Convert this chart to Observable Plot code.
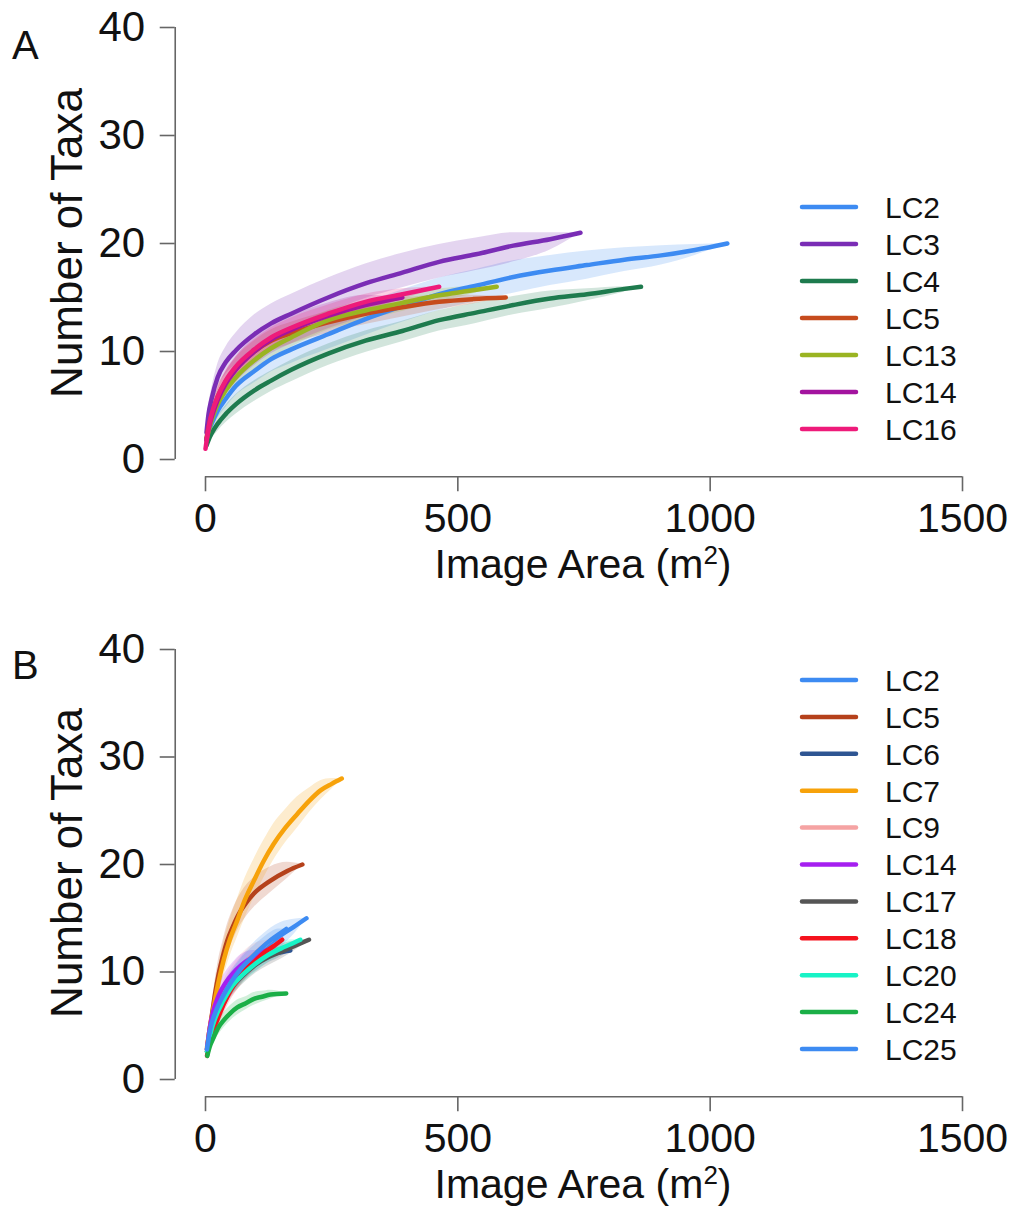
<!DOCTYPE html>
<html><head><meta charset="utf-8">
<script src="https://cdn.jsdelivr.net/npm/d3@7"></script>
<script src="https://cdn.jsdelivr.net/npm/@observablehq/plot@0.6"></script>
<style>
body{margin:0;background:#fff;font-family:"Liberation Sans",Arial,sans-serif;}
#wrap{position:relative;width:1016px;height:1207px;overflow:hidden;}
#wrap>div.panel{position:absolute;left:0;}
#overlay{position:absolute;left:0;top:0;pointer-events:none;}
</style></head><body><div id="wrap"></div>
<script>
// ---- axis ticks ----
const xTicks = [0, 500, 1000, 1500];
const yTicks = [0, 10, 20, 30, 40];

// ---- Panel A ----
const seriesA = ["LC2", "LC3", "LC4", "LC5", "LC13", "LC14", "LC16"];
const colorsA = ["#3D8BF2", "#7A2DB5", "#1E7B4E", "#C64B1D", "#9AB422", "#A3149F", "#EE1B7A"];
// [image area, taxa, lower, upper]
const A_LC2 = [[2,1.8,1.5,2.1],[6,2.6,2.2,3.0],[12,3.3,2.8,3.8],[24,4.5,3.8,5.2],[40,5.6,4.8,6.4],[60,6.8,5.9,7.7],[97,8.2,7.1,9.3],[130,9.3,8.1,10.5],[170,10.2,8.9,11.5],[243,11.6,10.2,13.0],[317,13.0,11.5,14.5],[390,14.2,12.7,15.7],[463,15.3,13.8,16.8],[536,16.1,14.6,17.6],[610,16.9,15.4,18.4],[683,17.5,16.1,18.9],[756,18.0,16.7,19.3],[830,18.5,17.4,19.6],[903,18.9,18.0,19.8],[970,19.4,18.9,19.9],[1034,20,20,20]];
const A_LC3 = [[2,2.5,2.0,3.0],[6,4.2,3.5,4.9],[12,5.6,4.7,6.5],[24,7.6,6.6,8.8],[40,9.0,7.9,10.4],[60,10.1,8.8,11.7],[97,11.6,10.2,13.4],[130,12.6,11.2,14.4],[170,13.5,12.1,15.3],[243,15.0,13.6,16.8],[317,16.3,14.9,18.1],[390,17.3,15.9,19.1],[463,18.3,16.8,19.9],[536,19.0,17.5,20.5],[610,19.8,18.3,21.0],[683,20.4,19.4,21.0],[743,21,21,21]];
const A_LC4 = [[2,1.3,1.0,1.6],[6,1.8,1.4,2.2],[12,2.4,1.9,2.9],[24,3.3,2.6,4.0],[40,4.2,3.4,5.0],[60,5.1,4.2,6.0],[97,6.4,5.4,7.3],[130,7.3,6.3,8.2],[170,8.3,7.2,9.2],[243,9.8,8.7,10.7],[317,11.0,9.9,11.9],[390,11.9,10.9,12.8],[463,12.9,11.9,13.8],[536,13.6,12.6,14.5],[610,14.3,13.4,15.1],[683,14.9,14.0,15.6],[756,15.3,14.7,15.8],[830,15.8,15.5,16.0],[863,16,16,16]];
const A_LC5 = [[2,2.0,1.6,2.4],[6,3.0,2.5,3.5],[12,4.1,3.4,4.8],[24,5.8,5.0,6.7],[40,7.2,6.3,8.1],[60,8.4,7.4,9.4],[97,10.0,9.0,11.0],[130,11.0,10.0,12.0],[170,11.7,10.7,12.7],[243,12.7,11.7,13.7],[317,13.5,12.5,14.4],[390,14.1,13.2,14.9],[463,14.6,13.9,15.2],[530,14.85,14.4,15.2],[595,15,15,15]];
const A_LC13 = [[2,1.8,1.5,2.1],[6,2.6,2.2,3.0],[12,3.6,3.0,4.2],[24,5.1,4.3,5.9],[40,6.4,5.6,7.2],[60,7.6,6.7,8.5],[97,9.2,8.3,10.1],[130,10.3,9.4,11.2],[170,11.3,10.4,12.2],[243,12.9,12.0,13.8],[317,13.8,12.9,14.7],[390,14.5,13.7,15.3],[463,15.2,14.6,15.8],[520,15.6,15.2,16.0],[577,16,16,16]];
const A_LC14 = [[2,1.8,1.4,2.2],[6,2.8,2.3,3.3],[12,3.9,3.2,4.6],[24,5.5,4.5,6.5],[40,7.0,5.9,8.1],[60,8.3,7.1,9.5],[97,10.0,8.7,11.3],[130,11.1,9.8,12.4],[170,12.0,10.7,13.3],[243,13.3,12.1,14.5],[317,14.3,13.3,15.2],[390,15,15,15]];
const A_LC16 = [[0,1.0,1.0,1.0],[3,2.0,1.7,2.3],[8,3.4,2.9,3.9],[16,4.8,4.1,5.5],[24,5.8,5.0,6.6],[40,7.3,6.4,8.2],[60,8.6,7.7,9.5],[97,10.2,9.3,11.1],[130,11.3,10.4,12.2],[170,12.2,11.3,13.1],[243,13.5,12.7,14.3],[317,14.6,13.9,15.3],[390,15.3,14.8,15.8],[463,16,16,16]];
const curvesA = [A_LC2, A_LC3, A_LC4, A_LC5, A_LC13, A_LC14, A_LC16];

// ---- Panel B ----
const seriesB = ["LC2", "LC5", "LC6", "LC7", "LC9", "LC14", "LC17", "LC18", "LC20", "LC24", "LC25"];
const colorsB = ["#3D8BF2", "#B5411B", "#2E5592", "#F7A20A", "#F5A3A3", "#A51FF0", "#555555", "#F5121E", "#17F3C6", "#1BAF47", "#3D8BF2"];
const B_LC2 = [[3,2.8,2.4,3.2],[8,4.2,3.6,4.8],[15,5.5,4.7,6.3],[30,7.3,6.3,8.3],[48,8.8,7.7,9.9],[69,10.1,9.0,11.3],[109,12.0,10.8,13.3],[149,13.4,12.3,14.6],[175,14.2,13.5,14.9],[200,15,15,15]];
const B_LC5 = [[3,2.8,2.3,3.3],[7,4.3,3.6,5.0],[13,6.1,5.2,7.2],[19,8.0,6.9,9.2],[26,9.8,8.6,11.2],[34,11.4,10.1,12.8],[43,12.9,11.6,14.4],[54,14.2,12.9,15.8],[66,15.4,14.1,17.0],[80,16.4,15.1,18.0],[96,17.3,16.0,18.8],[129,18.5,17.4,19.8],[162,19.4,18.7,20.2],[192,20,20,20]];
const B_LC6 = [[3,2.6,2.2,3.0],[8,3.9,3.3,4.5],[20,5.8,5.0,6.6],[35,7.4,6.5,8.3],[50,8.6,7.7,9.5],[66,9.6,8.7,10.5],[83,10.4,9.5,11.3],[100,10.9,10.1,11.7],[122,11.5,10.8,12.2],[145,11.8,11.3,12.3],[168,12,12,12]];
const B_LC7 = [[3,3.0,2.5,3.5],[8,4.6,3.9,5.4],[16,6.7,5.6,7.9],[25,8.9,7.6,10.3],[36,11.1,9.6,12.8],[48,13.0,11.4,14.8],[63,14.8,13.2,16.8],[78,16.7,15.0,18.7],[96,18.5,16.9,20.5],[115,20.3,18.7,22.2],[135,21.9,20.4,23.8],[158,23.4,22.0,25.1],[182,24.7,23.4,26.3],[205,25.9,24.8,27.1],[228,26.9,26.0,27.8],[250,27.5,27.0,28.0],[270,28,28,28]];
const B_LC9 = [[3,2.8,2.4,3.2],[9,4.6,3.9,5.3],[20,6.5,5.6,7.5],[35,8.0,7.0,9.1],[50,9.2,8.1,10.4],[65,10.1,9.0,11.3],[80,10.9,9.8,12.1],[105,12.0,11.2,12.8],[130,13,13,13]];
const B_LC14 = [[3,2.8,2.4,3.2],[8,4.6,3.9,5.3],[15,6.3,5.5,7.2],[26,7.8,6.9,8.8],[40,9.0,8.0,10.0],[55,9.9,8.9,10.9],[70,10.6,9.6,11.6],[95,11.4,10.8,12.0],[120,12,12,12]];
const B_LC17 = [[3,2.6,2.2,3.0],[9,4.0,3.4,4.6],[20,5.6,4.9,6.3],[35,7.2,6.4,8.0],[50,8.4,7.6,9.2],[75,9.7,8.9,10.5],[100,10.7,9.9,11.5],[125,11.4,10.6,12.2],[150,11.9,11.2,12.6],[180,12.5,12.1,12.9],[205,13,13,13]];
const B_LC18 = [[3,2.2,1.8,2.6],[10,3.8,3.2,4.4],[23,5.5,4.7,6.3],[36,7.0,6.1,7.9],[50,8.3,7.4,9.2],[66,9.4,8.5,10.3],[83,10.4,9.5,11.3],[100,11.1,10.3,11.9],[116,11.8,11.1,12.5],[135,12.4,11.9,12.9],[152,13,13,13]];
const B_LC20 = [[3,2.6,2.2,3.0],[9,4.1,3.5,4.7],[20,5.8,5.1,6.5],[35,7.3,6.5,8.1],[50,8.5,7.7,9.3],[75,9.8,9.0,10.6],[100,10.8,10.0,11.6],[125,11.6,10.9,12.3],[150,12.2,11.6,12.8],[170,12.6,12.2,13.0],[188,13,13,13]];
const B_LC24 = [[3.5,2.2,1.8,2.6],[8,3.0,2.5,3.5],[16,3.9,3.3,4.5],[25,4.8,4.1,5.5],[36,5.5,4.8,6.2],[50,6.2,5.5,6.9],[63,6.7,6.0,7.4],[80,7.1,6.5,7.7],[96,7.5,6.9,8.1],[112,7.7,7.2,8.2],[129,7.9,7.5,8.3],[160,8,8,8]];
const B_LC25 = [[3,2.8,2.4,3.2],[9,4.6,3.9,5.3],[20,6.3,5.5,7.1],[35,7.8,6.9,8.7],[50,9.0,8.1,9.9],[70,10.3,9.4,11.2],[90,11.3,10.4,12.2],[110,12.2,11.4,13.0],[130,13.0,12.3,13.7],[145,13.5,13.0,14.0],[160,14,14,14]];
const curvesB = [B_LC2, B_LC5, B_LC6, B_LC7, B_LC9, B_LC14, B_LC17, B_LC18, B_LC20, B_LC24, B_LC25];

const xLabel = "Image Area (m";
const yLabel = "Number of Taxa";
const FONT = "Liberation Sans, Arial, Helvetica, sans-serif";
const AXIS_COLOR = "#666";

function panel(curves, colors, o) {
  const rows = curves.map(c => c.map(([x, y, lo, hi]) => ({x, y, lo, hi})));
  const yMin = -0.04 * yTicks[yTicks.length - 1];
  const yMax = yTicks[yTicks.length - 1] * 1.04;
  const xSpan = xTicks[xTicks.length - 1] - xTicks[0];
  return Plot.plot({
    width: 1016, height: o.height,
    marginLeft: 174.72, marginRight: 23.72, marginTop: o.mt, marginBottom: o.mb,
    x: {domain: [xTicks[0] - 0.04 * xSpan, xTicks[xTicks.length - 1] + 0.04 * xSpan], label: null},
    y: {domain: [yMin, yMax], label: null},
    style: {fontFamily: FONT, background: "transparent", color: "#111", overflow: "visible"},
    marks: [
      ...rows.map((r, i) => Plot.areaY(r, {x: "x", y1: "lo", y2: "hi", fill: colors[i], fillOpacity: 0.2, curve: "monotone-x"})),
      ...rows.map((r, i) => Plot.line(r, {x: "x", y: "y", stroke: colors[i], strokeWidth: 4.5, strokeLinecap: "round", strokeLinejoin: "round", curve: "monotone-x"})),
      Plot.axisX({ticks: xTicks, tickSize: 15, tickPadding: 11, fontSize: 41, tickFormat: d3.format("d"), stroke: AXIS_COLOR, strokeWidth: 1.6, fill: "#111", label: null}),
      Plot.axisY({ticks: yTicks, tickSize: 15, tickPadding: 15, fontSize: 42, tickFormat: d3.format("d"), stroke: AXIS_COLOR, strokeWidth: 1.6, fill: "#111", label: null}),
      Plot.ruleY([{y: yMin, x1: xTicks[0], x2: xTicks[xTicks.length - 1]}], {y: "y", x1: "x1", x2: "x2", stroke: AXIS_COLOR, strokeWidth: 1.6}),
      Plot.ruleX([{x: xTicks[0] - 0.04 * xSpan, y1: yTicks[0], y2: yTicks[yTicks.length - 1]}], {x: "x", y1: "y1", y2: "y2", stroke: AXIS_COLOR, strokeWidth: 1.6})
    ]
  });
}

const wrap = document.getElementById("wrap");
const pA = document.createElement("div"); pA.className = "panel"; pA.style.top = "0px";
pA.appendChild(panel(curvesA, colorsA, {height: 620, mt: 9.72, mb: 143.72}));
wrap.appendChild(pA);
const pB = document.createElement("div"); pB.className = "panel"; pB.style.top = "620px";
pB.appendChild(panel(curvesB, colorsB, {height: 587, mt: 11.8, mb: 110.8}));
wrap.appendChild(pB);

// overlay: titles, panel letters, legends
const svg = d3.select(wrap).append("svg").attr("id", "overlay")
  .attr("width", 1016).attr("height", 1207)
  .style("font-family", FONT).style("fill", "#111");

function decorate(offset, letter, names, colors, legendTop, legendStep) {
  svg.append("text").attr("x", 12).attr("y", offset + 59).attr("font-size", 40).text(letter);
  svg.append("text").attr("text-anchor", "middle").attr("font-size", 44)
    .attr("transform", `translate(82,${offset + 243}) rotate(-90)`).text(yLabel);
  const t = svg.append("text").attr("x", 583).attr("y", offset + 577.5).attr("text-anchor", "middle").attr("font-size", 41);
  t.append("tspan").text(xLabel);
  t.append("tspan").attr("font-size", 26).attr("dy", -14).text("2");
  t.append("tspan").attr("dy", 14).text(")");
  const g = svg.append("g");
  names.forEach((n, i) => {
    const y = legendTop + i * legendStep;
    g.append("line").attr("x1", 802).attr("x2", 856).attr("y1", y).attr("y2", y)
      .attr("stroke", colors[i]).attr("stroke-width", 4.5).attr("stroke-linecap", "round");
    g.append("text").attr("x", 885).attr("y", y).attr("dy", "0.36em").attr("font-size", 30).text(n);
  });
}
decorate(0, "A", seriesA, colorsA, 207, 37);
decorate(620, "B", seriesB, colorsB, 680, 36.9);
</script></body></html>
